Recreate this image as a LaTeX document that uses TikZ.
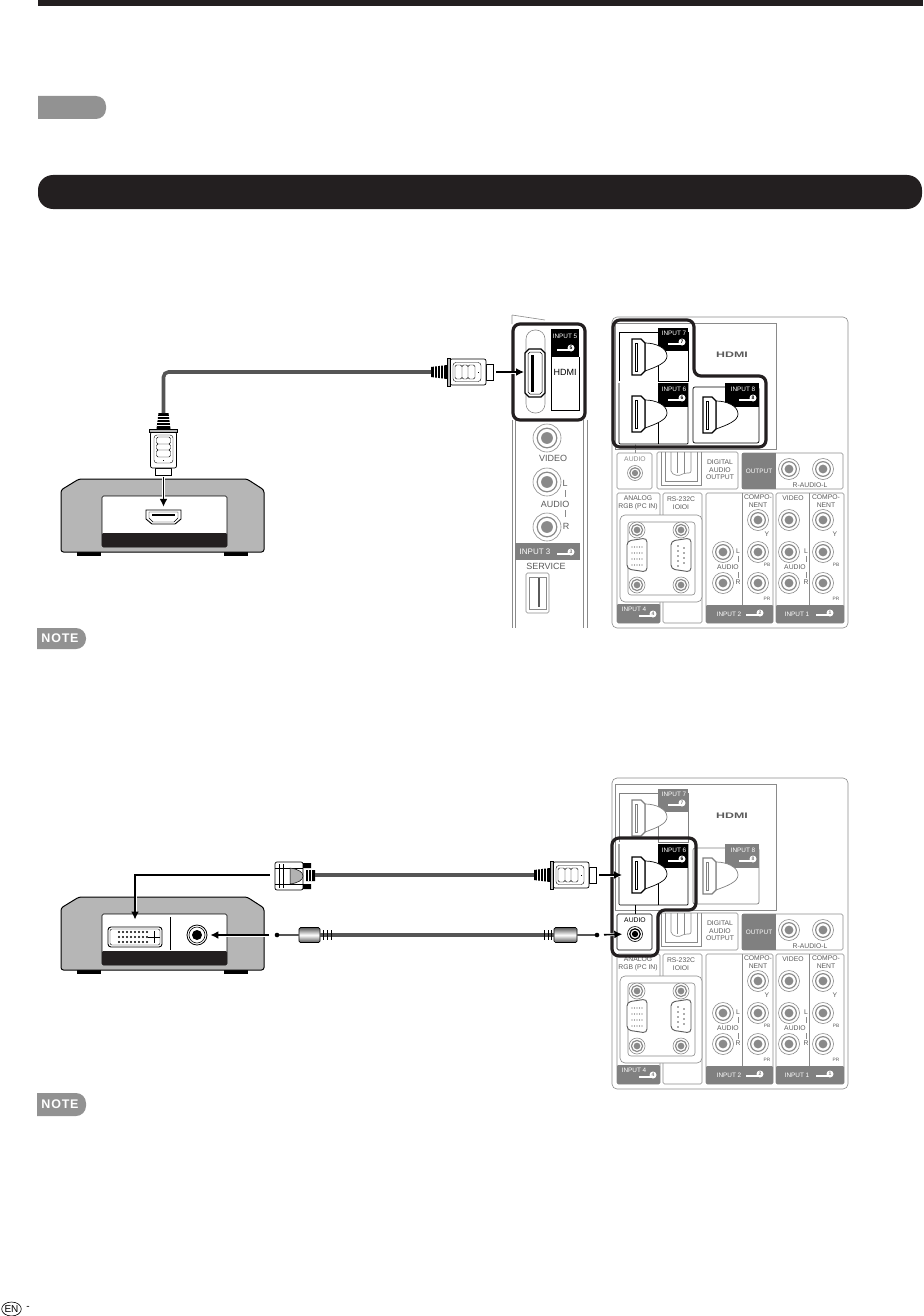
\documentclass[tikz,border=0pt]{standalone}
\usepackage{fontspec}
\usepackage{xcolor}
\usepackage{graphicx}
\setmainfont{Liberation Sans}
\usetikzlibrary{calc, shapes.geometric, positioning, arrows.meta}

\definecolor{inkblack}{HTML}{231F20}
\definecolor{tabgray}{HTML}{929292}
\definecolor{panelgray}{HTML}{8A8A8A}
\definecolor{lblgray}{HTML}{808080}
\definecolor{textgray}{HTML}{5A5A5A}
\definecolor{boxgray}{HTML}{B6B6B6}
\definecolor{cablegray}{HTML}{555555}

\tikzset{
  panelline/.style={draw=panelgray, line width=0.6pt},
  lbl/.style={font=\fontsize{6.8}{7.6}\selectfont, text=textgray, inner sep=0pt, align=center},
  sidelbl/.style={font=\fontsize{9}{9}\selectfont, text=textgray, inner sep=0pt},
  minilbl/.style={font=\fontsize{4.8}{5}\selectfont, text=textgray, inner sep=0pt},
  taglbl/.style={font=\fontsize{6.4}{7}\selectfont, text=white, inner sep=0pt},
  notelbl/.style={text=white, inner sep=0pt, font=\fontsize{12.5}{14}\bfseries\selectfont},
  cable/.style={draw=cablegray, line width=3.6pt},
  sigarrow/.style={->, draw=black, line width=1.6pt, preaction={draw=white, line width=3pt, -}},
  highlight/.style={draw=inkblack, line width=3.2pt, rounded corners=7pt},
  portbox/.style={draw=black, fill=white, line width=0.9pt, rounded corners=1.5pt, inner sep=0pt}
}

% Giắc tròn
\newcommand{\jack}[4][panelgray]{%
  \draw[draw=#1, fill=white, line width=0.6pt] (#2,#3) circle (#4);
  \draw[draw=#1, line width=1.2pt] (#2,#3) circle (#4*0.7);
  \fill[#1] (#2,#3) circle (#4*0.42);
}
% Nhãn móc và số
\newcommand{\inputtag}[4]{%
  \draw[white, line width=2pt] (#1-14,#2+1.5) -- (#1,#2+1.5);
  \node[circle, fill=white, inner sep=0pt, minimum size=7pt, text=#4, font=\fontsize{5}{5}\bfseries\selectfont] (tag#3) at (#1,#2) {#3};
}
% Cổng HDMI trên bảng
\newcommand{\hdmiport}[3]{%
  \begin{scope}[shift={(#1,#2)}]
    \draw[draw=#3, fill=white, line width=0.7pt] (7,-14) .. controls (18,-14) and (29,-9) .. (29,-1) .. controls (29,6) and (18,10) .. (7,14) -- cycle;
    \draw[draw=#3, fill=white, line width=1.2pt] (-6,-18) -- (3,-18) -- (7,-14) -- (7,14) -- (3,18) -- (-6,18) -- cycle;
    \draw[draw=#3, line width=0.6pt] (-3,-14) -- (-3,14) -- (-1,14) -- (-1,-14) -- cycle;
  \end{scope}
}
% Đầu cắm HDMI
\newcommand{\hdmiplug}[4]{%
  \begin{scope}[shift={(#2,#3)}, rotate=#4]
    \coordinate (#1back) at (0,0);
    \coordinate (#1tip) at (62,0);
    \fill[black] (0,-5) -- (16,-7) -- (16,7) -- (0,5) -- cycle;
    \foreach \x in {3,6,9,12} \draw[white, line width=0.7pt] (\x,-7) -- (\x,7);
    \draw[black, line width=0.6pt, fill=white] (55,-8) rectangle (62,8);
    \draw[black, line width=0.7pt, fill=white, rounded corners=2pt] (19,-13) rectangle (55,13);
    \draw[black, line width=0.7pt, fill=boxgray] (16,-14) rectangle (19,14);
    \draw[black, line width=0.4pt, rounded corners=3pt] (22,-9.5) rectangle (50,9.5);
    \draw[black, line width=0.4pt, rounded corners=1.5pt] (24,-7) rectangle (31,7) (31,-7) rectangle (37,7) (37,-7) rectangle (44,7);
    \fill[black] (47,-0.5) rectangle (48,0.5);
  \end{scope}
}
% Thiết bị nguồn
\newcommand{\sourcebox}[1]{%
  \begin{scope}[shift={(0,#1)}]
    \fill[black] (77,551) rectangle (101,556);
    \fill[black] (224,551) rectangle (248,556);
    \draw[black, fill=boxgray, line width=1pt, rounded corners=2.5pt] (79,479) -- (247,479) -- (264,490) -- (264,552) -- (61,552) -- (61,490) -- cycle;
    \draw[black, fill=white, line width=0.6pt, rounded corners=1.5pt] (102,496) rectangle (227,547);
    \fill[inkblack, rounded corners=1pt] (102,533) rectangle (227,547);
  \end{scope}
}
% Bảng cổng phía sau
\newcommand{\terminalpanel}[4]{%
  \draw[panelline, rounded corners=5pt] (612,317) rectangle (848,628);
  \draw[panelline] (615,323) rectangle (776,449);
  \node[font=\fontsize{8}{8}\bfseries\selectfont, text=textgray, inner sep=0pt] (hdmilogo) at (732,355) {\scalebox{1.55}[1]{HDMI}};
  % Ba cổng HDMI
  \draw[draw=#1, line width=0.7pt] (619,381) -- (619,332) -- (688,332) -- (688,381) -- (658,381);
  \draw[draw=#2, line width=0.7pt, rounded corners=1pt] (619,383) -- (619,444) -- (688,444) -- (688,383);
  \draw[draw=#3, line width=0.7pt, rounded corners=2pt] (693,387) rectangle (759,443);
  \draw[draw=#1, line width=0.7pt] (658,351) -- (658,381);
  \draw[draw=#2, line width=0.7pt] (658,407) -- (658,444);
  \fill[#1] (658,328) rectangle (688,351);
  \fill[#2] (658,383) rectangle (688,407);
  \fill[#3] (725,383) rectangle (759,407);
  \hdmiport{638}{357}{#1}
  \hdmiport{638}{414}{#2}
  \hdmiport{709}{415}{#3}
  \node[taglbl] (name7) at (674,333) {INPUT 7};
  \node[taglbl] (name6) at (674,389) {INPUT 6};
  \node[taglbl] (name8) at (743,389) {INPUT 8};
  \inputtag{682}{342}{7}{#1}
  \inputtag{682}{398}{6}{#2}
  \inputtag{753}{398}{8}{#3}
  \coordinate (p7) at (638,357);
  \coordinate (p6) at (638,414);
  % Ô AUDIO
  \draw[draw=#4, line width=0.6pt, rounded corners=1.5pt] (617,453) rectangle (652,489);
  \draw[draw=#4, line width=0.6pt] (635,444) -- (635,453);
  \node[lbl, text=#4] (audiolbl) at (635,459) {AUDIO};
  \node[circle, inner sep=0pt, minimum size=15pt] (audioj) at (635,473) {};
  \jack[#4]{635}{473}{7.5}
  % Ô quang
  \draw[panelline, rounded corners=1.5pt] (657,452) rectangle (738,489);
  \draw[panelline] (661,452) -- (661,485) -- (701,485) -- (701,452);
  \draw[panelline] (665,452) -- (665,481) -- (697,481) -- (697,452);
  \draw[panelline, rounded corners=2pt] (671,452) -- (671,473) -- (678,476) -- (685,473) -- (691,473) -- (691,452);
  \draw[panelline] (677,452) -- (677,473) (684,452) -- (684,473);
  \node[lbl] (optlbl) at (720,470) {DIGITAL\\AUDIO\\OUTPUT};
  % Ô OUTPUT
  \draw[panelline, rounded corners=1.5pt] (742,453) rectangle (843,489);
  \fill[lblgray] (742,453) rectangle (776,489);
  \node[taglbl] (outlbl) at (759,471) {OUTPUT};
  \jack{789}{469}{10.5}
  \jack{823}{469}{10.5}
  \node[lbl] (rlbl) at (810,485) {R-AUDIO-L};
  % Bốn ô dưới
  \draw[panelline, rounded corners=1.5pt] (617,493) rectangle (660,623);
  \draw[panelline, rounded corners=1.5pt] (663,493) rectangle (702,623);
  \draw[panelline, rounded corners=1.5pt] (706,493) rectangle (773,623);
  \draw[panelline, rounded corners=1.5pt] (776,493) rectangle (844,623);
  \draw[panelline] (742,493) -- (742,605) (809,493) -- (809,605);
  \node[lbl] (rgblbl) at (638,503) {ANALOG\\RGB (PC IN)};
  \node[lbl] (rslbl) at (681,503) {RS-232C\\IOIOI};
  % Ổ VGA và RS-232C
  \draw[panelline, fill=white, rounded corners=5pt] (620,515) rectangle (702,602);
  \draw[panelline, rounded corners=3pt] (628,522) rectangle (695,595);
  \foreach \x in {637,681} {
    \jack{\x}{530}{8}
    \jack{\x}{585}{8}
    \draw[draw=textgray, fill=white, line width=0.9pt, rounded corners=4pt] (\x-10,541) -- (\x+10,538) -- (\x+10,572) -- (\x-10,569) -- cycle;
  }
  \foreach \x in {-5,-2.5,0,2.5,5} \foreach \y in {547,553,559,565} \fill[textgray] (637+\x,\y) circle (0.7);
  \foreach \y in {546,551,556,561,566} \fill[textgray] (678,\y) circle (0.8);
  \foreach \y in {548,553,558,563} \fill[textgray] (684,\y) circle (0.8);
  % INPUT 2 và INPUT 1
  \fill[lblgray, rounded corners=1pt] (617,604) rectangle (660,623);
  \fill[lblgray, rounded corners=1pt] (706,605) rectangle (773,623);
  \fill[lblgray, rounded corners=1pt] (776,605) rectangle (844,623);
  \node[taglbl] (name4) at (634,609) {INPUT 4};
  \node[taglbl] (name2) at (729,614) {INPUT 2};
  \node[taglbl] (name1) at (797,614) {INPUT 1};
  \inputtag{653}{614}{4}{lblgray}
  \inputtag{760}{613}{2}{lblgray}
  \inputtag{830}{613}{1}{lblgray}
  \foreach \x in {758,823} {
    \jack{\x}{520}{10.5}
    \jack{\x}{552}{10.5}
    \jack{\x}{583}{10.5}
  }
  \jack{723}{552}{10.5}
  \jack{723}{583}{10.5}
  \jack{789}{520}{10.5}
  \jack{789}{552}{10.5}
  \jack{789}{583}{10.5}
  \node[lbl] (comp2) at (758,501) {COMPO-\\NENT};
  \node[lbl] (comp1) at (826,501) {COMPO-\\NENT};
  \node[lbl] (vid1) at (793,498) {VIDEO};
  \node[lbl] (aud2) at (728,567) {AUDIO};
  \node[lbl] (aud1) at (795,567) {AUDIO};
  \node[lbl] (l2) at (738,551) {L};
  \node[lbl] (r2) at (738,582) {R};
  \node[lbl] (l1) at (806,551) {L};
  \node[lbl] (r1) at (806,582) {R};
  \draw[panelline] (738,556) -- (738,562) (738,572) -- (738,578);
  \draw[panelline] (806,556) -- (806,562) (806,572) -- (806,578);
  \node[lbl] (y2) at (767,534) {Y};
  \node[lbl] (y1) at (835,534) {Y};
  \node[minilbl] (pb2) at (767,565) {PB};
  \node[minilbl] (pr2) at (767,599) {PR};
  \node[minilbl] (pb1) at (836,565) {PB};
  \node[minilbl] (pr1) at (836,599) {PR};
}

\begin{document}
\begin{tikzpicture}[>={Latex[length=8pt,width=8pt]}, x=1pt, y=-1pt]
    \useasboundingbox (0,0) rectangle (923,1316);

    % Thanh đầu trang
    \fill[inkblack] (38,0) rectangle (923,6);
    \fill[tabgray] (38,96) [rounded corners=10pt] -- (106,96) -- (106,119) [sharp corners] -- (38,119) -- cycle;
    \fill[inkblack, rounded corners=15pt] (38,175) rectangle (922,209);

    % Bảng cạnh bên
    \draw[panelline] (512,420) -- (512,628) (515,420) -- (515,628) (583,420) -- (583,628) (587,420) -- (587,628);
    \draw[panelline] (512,315) -- (545,320) (512,315) -- (512,324);
    \draw[panelline, rounded corners=9pt, fill=white] (526,330) rectangle (545,413);
    \draw[draw=black, fill=white, line width=1.1pt] (525,353) -- (529,349) -- (541,349) -- (545,353) -- (545,393) -- (541,397) -- (529,397) -- (525,393) -- cycle;
    \draw[black, line width=0.5pt] (528,354) -- (530,352) -- (540,352) -- (542,354) -- (542,392) -- (540,394) -- (530,394) -- (528,392) -- cycle;
    \fill[black] (531,355) rectangle (534,392);
    \node[inner sep=0pt, minimum width=20pt, minimum height=48pt] (port5) at (535,372) {};
    \fill[black] (551,329) rectangle (579,357);
    \draw[black, line width=0.6pt] (551,357) -- (551,410) -- (579,410) -- (579,357);
    \node[taglbl] (name5) at (565,336) {INPUT 5};
    \inputtag{571}{348}{5}{black}
    \node[sidelbl, text=black] (hdmi5) at (565,372) {HDMI};
    \jack{547}{438}{14}
    \jack{547}{482}{14}
    \jack{547}{527}{14}
    \node[sidelbl] (vidlbl) at (553,458) {VIDEO};
    \node[sidelbl] (llbl) at (565,483) {L};
    \node[sidelbl] (audlbl) at (555,504) {AUDIO};
    \node[sidelbl] (rlbl) at (566,526) {R};
    \draw[panelline] (565,490) -- (565,497) (565,510) -- (565,517);
    \fill[lblgray] (515,543) rectangle (580,560);
    \node[font=\fontsize{8}{8}\selectfont, text=white, inner sep=0pt] (name3) at (535,552) {INPUT 3};
    \inputtag{571}{552}{3}{lblgray}
    \node[sidelbl] (srvlbl) at (546,566) {SERVICE};
    \draw[panelline, rounded corners=1.5pt] (526,573) rectangle (549,613);
    \draw[panelline] (529,577) rectangle (546,609);
    \fill[textgray] (538,578) rectangle (540,607);

    % Bảng cổng và khung đậm
    \terminalpanel{black}{black}{black}{panelgray}
    \draw[highlight] (613,320) -- (694,320) -- (694,376) -- (766,376) -- (766,447) -- (613,447) -- cycle;
    \draw[highlight] (513,324) rectangle (585,420);

    \begin{scope}[shift={(0,461)}, name prefix=low-]
      \terminalpanel{lblgray}{black}{lblgray}{black}
      \draw[highlight] (612,377) -- (696,377) -- (696,449) -- (658,449) -- (658,495) -- (612,495) -- cycle;
    \end{scope}

    % Sơ đồ trên
    \sourcebox{0}
    \node[inner sep=0pt, minimum width=35pt, minimum height=15pt] (hdmiIn) at (163.5,516.5) {};
    \draw[black, fill=white, line width=0.9pt] (146,510) -- (181,510) -- (181,519) -- (175,524) -- (152,524) -- (146,519) -- cycle;
    \draw[black, line width=0.4pt] (149,512) -- (178,512) -- (178,518) -- (174,522) -- (153,522) -- (149,518) -- cycle;
    \draw[black, line width=1.2pt] (152,515) -- (175,515);
    \hdmiplug{plugA}{431}{372}{0}
    \hdmiplug{plugB}{163.5}{413}{-90}
    \draw[cable, rounded corners=5pt] (plugAback) -| (plugBback);
    \draw[sigarrow, shorten <=3pt, shorten >=11pt] (plugAtip) -- (port5.center);
    \draw[sigarrow, shorten <=2pt, shorten >=2pt] (plugBtip) -- (hdmiIn.north);
    \fill[tabgray] (37,628) [rounded corners=10pt] -- (86,628) -- (86,649) [sharp corners] -- (37,649) -- cycle;
    \node[notelbl] (noteA) at (60,638.5) {N\hspace{0.8pt}O\hspace{0.8pt}T\hspace{0.8pt}E};

    % Sơ đồ dưới
    \sourcebox{418}
    \draw[black, line width=0.7pt] (170,917) -- (170,950);
    \node[portbox, minimum width=54pt, minimum height=20pt, rounded corners=3pt] (dviIn) at (135,937) {};
    \draw[black, line width=0.4pt, rounded corners=2pt] (110,929) rectangle (160,945);
    \foreach \x in {119,123,127,131,135,139,143,147} \foreach \y in {932,937,942} \fill[black] (\x,\y) circle (1.2);
    \draw[black, line width=0.8pt] (154,931) -- (154,943) (148,937) -- (160,937);
    \node[circle, draw=black, fill=white, line width=0.8pt, minimum size=20pt, inner sep=0pt] (jackIn) at (197,935) {};
    \draw[black, line width=0.6pt] (197,935) circle (8);
    \fill[black] (197,935) circle (5);

    % Cáp DVI sang HDMI
    \node[draw=black, fill=white, line width=0.7pt, rounded corners=2pt, minimum width=28pt, minimum height=28pt, inner sep=0pt] (dviPlug) at (289,876) {};
    \draw[black, line width=0.4pt] (279,864) -- (279,888) (283,864) -- (283,888) (275,868) -- (303,868) (275,884) -- (303,884);
    \fill[gray!60] (290,868) .. controls (298,869) and (303,872) .. (303,876) .. controls (303,880) and (298,883) .. (290,884) -- cycle;
    \draw[black, line width=0.5pt] (290,868) .. controls (298,869) and (303,872) .. (303,876) .. controls (303,880) and (298,883) .. (290,884) -- cycle;
    \fill[black] (303,863) rectangle (311,868) (303,884) rectangle (311,889) (306,870) rectangle (315,881);
    \foreach \x in {308,311} \draw[white, line width=0.6pt] (\x,870) -- (\x,881);
    \hdmiplug{plugC}{534}{875}{0}
    \coordinate (dviBack) at (315,875);
    \draw[cable] (dviBack) -- (plugCback);
    \draw[sigarrow, shorten <=3pt, shorten >=16pt] (plugCtip) -- (low-p6);
    \draw[sigarrow, shorten <=5pt, shorten >=7pt] (dviPlug.west |- dviBack) -| (dviIn.north);

    % Cáp âm thanh
    \node[draw=black, line width=0.7pt, inner sep=0pt, minimum width=21pt, minimum height=15pt, rounded corners=1.5pt, top color=cablegray, bottom color=cablegray, middle color=white] (audioL) at (309.5,935) {};
    \node[draw=black, line width=0.7pt, inner sep=0pt, minimum width=23pt, minimum height=15pt, rounded corners=1.5pt, top color=cablegray, bottom color=cablegray, middle color=white] (audioR) at (565.5,935) {};
    \coordinate (tipL) at (277,935);
    \coordinate (tipR) at (597,935);
    \draw[cablegray, line width=2.4pt] (tipL) -- (audioL.west);
    \draw[cablegray, line width=2.4pt] (tipR) -- (audioR.east);
    \fill[black] (tipL) circle (2.3) (tipR) circle (2.3);
    \draw[cable] (audioL.east) -- (audioR.west);
    \foreach \x in {323,327,331,544,548,551} \draw[black, line width=1pt] (\x,930) -- (\x,940);
    \draw[sigarrow, shorten <=8pt, shorten >=3pt] (tipL) -- (jackIn.east);
    \draw[sigarrow, shorten <=7pt, shorten >=5pt] (tipR) -- (low-audioj.west);

    % Ghi chú và số trang
    \fill[tabgray] (37,1093) [rounded corners=10pt] -- (86,1093) -- (86,1116) [sharp corners] -- (37,1116) -- cycle;
    \node[notelbl] (noteB) at (60,1104.5) {N\hspace{0.8pt}O\hspace{0.8pt}T\hspace{0.8pt}E};
    \node[ellipse, draw=black, line width=0.6pt, inner sep=0pt, minimum width=19pt, minimum height=14pt, font=\fontsize{10}{10}\selectfont] (enmark) at (11.5,1309) {EN};
    \node[inner sep=0pt, font=\fontsize{10}{10}\selectfont] (endash) at (28,1308) {-};
\end{tikzpicture}
\end{document}
